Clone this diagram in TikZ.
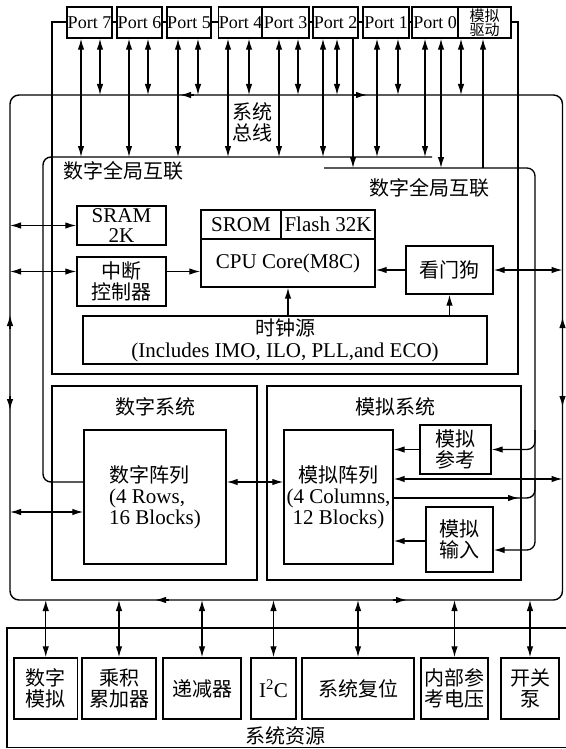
\documentclass[tikz,border=0pt]{standalone}
\usepackage{fontspec}
\setmainfont{Liberation Serif}
\newfontfamily\cjk{Noto Sans CJK SC}
\usetikzlibrary{arrows.meta}
\newcommand\latfont{\fontsize{21}{19.5}\selectfont}
\newcommand\zhfont{\cjk\fontsize{20}{21}\selectfont}
\newcommand\portfont{\fontsize{18}{18}\selectfont}
\newcommand\tinyzh{\cjk\fontsize{15}{14}\selectfont}

\begin{document}
\begin{tikzpicture}[x=1pt,y=-1pt,
  every node/.style={font=\latfont},
  blk/.style={draw,fill=white,line width=1.4pt,inner sep=0pt},
  wire/.style={line width=1.4pt},
  arr/.style={-{Latex[length=11pt,width=6.5pt]},line width=1.3pt},
  dbl/.style={{Latex[length=11pt,width=6.5pt]}-{Latex[length=11pt,width=6.5pt]},line width=1.3pt}]
\useasboundingbox (0,0) rectangle (565,749);
% bus levels
\coordinate (busL) at (10,0);
\coordinate (busR) at (562.5,0);
\coordinate (busT) at (0,95);
\coordinate (busB) at (0,600);
\coordinate (ginL) at (0,157);
\coordinate (ginR) at (0,168);
% system bus and chip outline
\draw[wire,rounded corners=9pt] (10,95) rectangle (562.5,600);
\draw[wire] (52,22) rectangle (518,374);
% ports
\node[blk,minimum width=45pt,minimum height=31pt,font=\portfont] (p7) at (89.5,22.5) {Port 7};
\node[blk,minimum width=45pt,minimum height=31pt,font=\portfont] (p6) at (139.5,22.5) {Port 6};
\node[blk,minimum width=44pt,minimum height=31pt,font=\portfont] (p5) at (189,22.5) {Port 5};
\node[blk,minimum width=43pt,minimum height=31pt,font=\portfont] (p4) at (240.5,22.5) {Port 4};
\node[blk,minimum width=47pt,minimum height=31pt,font=\portfont] (p3) at (285.5,22.5) {Port 3};
\node[blk,minimum width=45pt,minimum height=31pt,font=\portfont] (p2) at (335.5,22.5) {Port 2};
\node[blk,minimum width=46pt,minimum height=31pt,font=\portfont] (p1) at (386,22.5) {Port 1};
\node[blk,minimum width=46pt,minimum height=31pt,font=\portfont] (p0) at (435,22.5) {Port 0};
\node[blk,minimum width=53pt,minimum height=31pt,font=\tinyzh,align=center] (adrv) at (484.5,22.5) {模拟\\驱动};
\node[font=\zhfont,align=center] (sbus) at (252,122) {系统\\总线};
% core
\node[font=\zhfont,anchor=west] (glbl) at (60,171) {数字全局互联};
\node[font=\zhfont,anchor=east] (grbl) at (493,188) {数字全局互联};
\node[blk,minimum width=89pt,minimum height=39pt,align=center] (sram) at (121.5,225.5) {SRAM\\2K};
\node[blk,minimum width=89pt,minimum height=49pt,align=center,font=\zhfont] (intc) at (121.5,281.5) {中断\\控制器};
\node[blk,minimum width=80pt,minimum height=29pt] (srom) at (241,224.5) {SROM};
\node[blk,minimum width=94pt,minimum height=29pt] (flash) at (328,224.5) {Flash 32K};
\node[blk,minimum width=174pt,minimum height=48pt] (core) at (288,263) {CPU Core(M8C)};
\node[blk,minimum width=87pt,minimum height=48pt,font=\zhfont] (wdog) at (449.5,270) {看门狗};
\node[blk,minimum width=404pt,minimum height=48pt,align=center,font=\fontsize{21}{22}\selectfont] (clk) at (285,340) {{\zhfont 时钟源}\\(Includes IMO, ILO, PLL,and ECO)};
% digital and analog systems
\node[blk,minimum width=205pt,minimum height=194pt] (dsys) at (154.5,483) {};
\node[font=\zhfont] (dsysl) at (155,407) {数字系统};
\node[blk,minimum width=254pt,minimum height=194pt] (asys) at (394,483) {};
\node[font=\zhfont] (asysl) at (395,407) {模拟系统};
\node[blk,minimum width=142pt,minimum height=134pt,align=left,font=\fontsize{21}{21}\selectfont] (darr) at (155,497) {{\zhfont 数字阵列}\\(4 Rows,\\16 Blocks)};
\node[blk,minimum width=109pt,minimum height=134pt,align=center,font=\fontsize{21}{21}\selectfont] (aarr) at (338.5,497) {{\zhfont 模拟阵列}\\(4 Columns,\\12 Blocks)};
\node[blk,minimum width=71pt,minimum height=49pt,align=center,font=\zhfont] (aref) at (455.5,449.5) {模拟\\参考};
\node[blk,minimum width=67pt,minimum height=65pt,align=center,font=\zhfont] (ainp) at (459.5,539.5) {模拟\\输入};
% system resources
\draw[wire] (566,628) -- (7,628) -- (7,747.5) -- (566,747.5);
\node[blk,minimum width=63.5pt,minimum height=61pt,align=center,font=\zhfont] (dmod) at (45.75,688.5) {数字\\模拟};
\node[blk,minimum width=74pt,minimum height=61pt,align=center,font=\zhfont] (mac) at (119,688.5) {乘积\\累加器};
\node[blk,minimum width=78pt,minimum height=61pt,font=\zhfont] (dec) at (202,688.5) {递减器};
\node[blk,minimum width=45pt,minimum height=61pt] (iic) at (273.5,688.5) {I\textsuperscript{2}C};
\node[blk,minimum width=112pt,minimum height=61pt,font=\zhfont] (srst) at (358,688.5) {系统复位};
\node[blk,minimum width=67pt,minimum height=61pt,align=center,font=\zhfont] (vref) at (454.5,688.5) {内部参\\考电压};
\node[blk,minimum width=58pt,minimum height=61pt,align=center,font=\zhfont] (spump) at (530,688.5) {开关\\泵};
\node[font=\zhfont] (sres) at (285,736) {系统资源};
% port connections
\foreach \p/\a/\b in {p7/81/100,p6/129/148,p5/178/198,p4/228/249,p3/279/298,p2/323/337,p1/377/398}{
  \draw[dbl] (\a,0 |- \p.south) -- (\a,0 |- ginL);
  \draw[dbl] (\b,0 |- \p.south) -- (\b,0 |- busT);
}
\draw[arr] (353,0 |- p2.south) -- (353,0 |- ginR);
\draw[dbl] (425,0 |- p0.south) -- (425,0 |- ginL);
\draw[dbl] (441,0 |- p0.south) -- (441,0 |- ginR);
\draw[dbl] (461,0 |- adrv.south) -- (461,0 |- busT);
\draw[arr] (483,0 |- ginR) -- (483,0 |- adrv.south);
% bus direction marks
\draw[arr] (194,0 |- busT) -- (180,0 |- busT);
\draw[arr] (353,0 |- busT) -- (367,0 |- busT);
\draw[arr] (169,0 |- busB) -- (155,0 |- busB);
\draw[arr] (393,0 |- busB) -- (407,0 |- busB);
\draw[arr] (busL |- 0,329) -- (busL |- 0,315);
\draw[arr] (busL |- 0,396) -- (busL |- 0,410);
\draw[arr] (busR |- 0,331) -- (busR |- 0,317);
\draw[arr] (busR |- 0,393) -- (busR |- 0,407);
% global interconnects
\draw[wire,rounded corners=8pt] (432,0 |- ginL) -- (43,0 |- ginL) -- (43,482) -- ([yshift=15pt]darr.west);
\draw[arr,rounded corners=8pt] (324,0 |- ginR) -- (535,0 |- ginR) -- (535,550) -- ([yshift=-10.5pt]ainp.east);
\draw[arr,rounded corners=8pt] (535,430) -- (535,449.5) -- (aref.east);
\draw[arr] ([yshift=-1pt]aarr.east) -- (519,498);
\draw[wire,rounded corners=8pt] (515,498) -- (535,498) -- (535,480);
% core connections
\draw[dbl] (sram.west -| busL) -- (sram.west);
\draw[dbl] ([yshift=10pt]intc.west -| busL) -- ([yshift=10pt]intc.west);
\draw[arr] ([yshift=10pt]intc.east) -- ([yshift=10pt]intc.east -| core.west);
\draw[arr] (wdog.west) -- (wdog.west -| core.east);
\draw[dbl] (wdog.east) -- (wdog.east -| busR);
\draw[arr] (clk.north -| core.south) -- (core.south);
\draw[arr] (clk.north -| wdog.south) -- (wdog.south);
% system connections
\draw[dbl] ([yshift=15pt]darr.east) -- ([yshift=15pt]darr.east -| aarr.west);
\draw[dbl] ([yshift=-15pt]darr.west -| busL) -- ([yshift=-15pt]darr.west);
\draw[dbl] ([yshift=18pt]aarr.east) -- ([yshift=18pt]aarr.east -| busR);
\draw[arr] (aref.west) -- (aref.west -| aarr.east);
\draw[arr] ([yshift=-1.5pt]ainp.west) -- ([yshift=-1.5pt]ainp.west -| aarr.east);
\foreach \n in {dmod,mac,dec,iic,srst,vref,spump}
  \draw[dbl] (\n.north |- busB) -- (\n.north);
\end{tikzpicture}
\end{document}
